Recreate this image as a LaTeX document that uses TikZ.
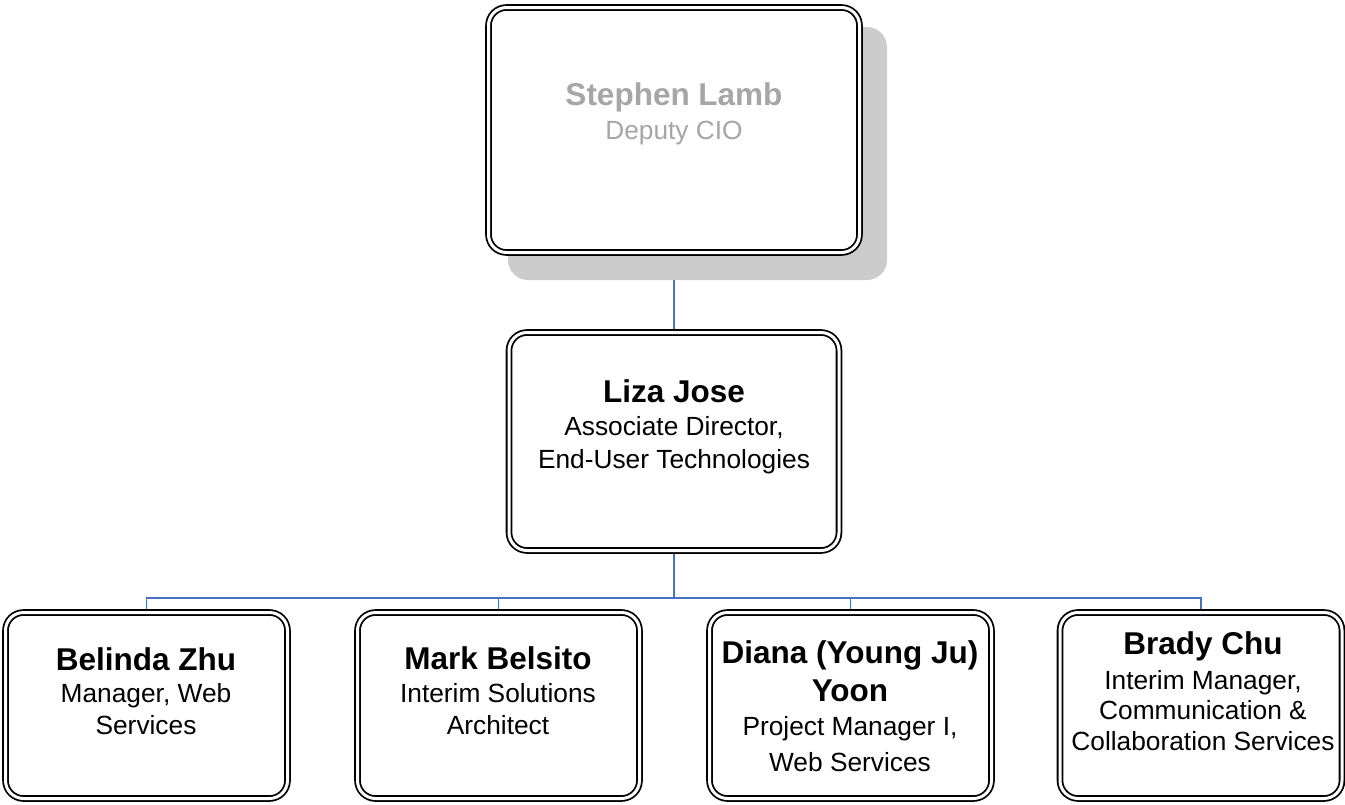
\documentclass[tikz,border=0pt]{standalone}
\usepackage{fontspec}
\setmainfont{Liberation Sans}
\definecolor{connblue}{HTML}{4472C4}
\definecolor{shadowgray}{HTML}{CCCCCC}
\definecolor{dimtext}{HTML}{A6A6A6}
\pgfdeclarelayer{bg}
\pgfsetlayers{bg,main}
\tikzset{
  orgbox/.style={draw=black, line width=1.8pt, double=white, double distance=3pt,
    fill=white, rounded corners=18pt, inner sep=0pt},
  topbox/.style={orgbox, minimum width=371pt, minimum height=245pt},
  midbox/.style={orgbox, minimum width=330pt, minimum height=218pt},
  lowbox/.style={orgbox, minimum width=282pt, minimum height=186pt},
  nametext/.style={anchor=base, inner sep=0pt, font=\fontsize{31.5}{36}\selectfont\bfseries},
  roletext/.style={anchor=base, inner sep=0pt, font=\fontsize{26.3}{31}\selectfont},
  conn/.style={draw=connblue, line width=1.8pt},
}
\begin{document}
\begin{tikzpicture}[x=1pt, y=-1pt]
\useasboundingbox (0,0) rectangle (1345,804);
% shadow of the top box
\fill[shadowgray, rounded corners=20pt] (508,27) rectangle (887,280);
% boxes
\node[topbox] (top) at (674,130) {};
\node[midbox] (liza) at (674,441.5) {};
\node[lowbox] (belinda) at (146.5,705.5) {};
\node[lowbox] (mark) at (498.5,705.5) {};
\node[lowbox] (diana) at (850.5,705.5) {};
\node[lowbox] (brady) at (1201,705.5) {};
\coordinate (bus) at (674,598);
% connectors
\begin{pgfonlayer}{bg}
\draw[conn] (top) -- (liza);
\draw[conn] (liza) -- (bus);
\draw[conn] (bus) -| (belinda);
\draw[conn] (bus) -| (mark);
\draw[conn] (bus) -| (diana);
\draw[conn] (bus) -| (brady);
\end{pgfonlayer}
% texts
\node[nametext, text=dimtext] (topN) at (674,105) {Stephen Lamb};
\node[roletext, text=dimtext] (topR) at (674,139) {Deputy CIO};
\node[nametext] (lizaN) at (674,402) {Liza Jose};
\node[roletext] (lizaR1) at (674,435) {Associate Director,};
\node[roletext] (lizaR2) at (674,468) {End-User Technologies};
\node[nametext] (belindaN) at (146,670) {Belinda Zhu};
\node[roletext] (belindaR1) at (146,702) {Manager, Web};
\node[roletext] (belindaR2) at (146,734) {Services};
\node[nametext] (markN) at (498,669) {Mark Belsito};
\node[roletext] (markR1) at (498,702) {Interim Solutions};
\node[roletext] (markR2) at (498,734) {Architect};
\node[nametext] (dianaN1) at (850,663) {Diana (Young Ju)};
\node[nametext] (dianaN2) at (850,701) {Yoon};
\node[roletext] (dianaR1) at (850,735) {Project Manager I,};
\node[roletext] (dianaR2) at (850,771) {Web Services};
\node[nametext] (bradyN) at (1203,654) {Brady Chu};
\node[roletext] (bradyR1) at (1203,689) {Interim Manager,};
\node[roletext] (bradyR2) at (1203,719) {Communication \&};
\node[roletext] (bradyR3) at (1203,750) {Collaboration Services};
\end{tikzpicture}
\end{document}
